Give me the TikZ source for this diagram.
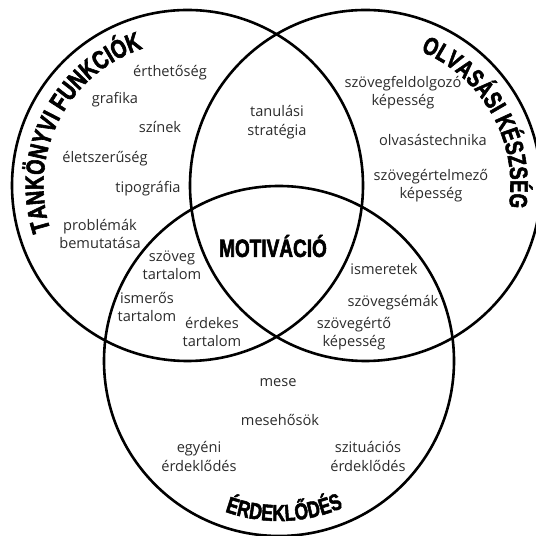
\documentclass[tikz,border=0pt]{standalone}
\usepackage{fontspec}
\setmainfont{Open Sans}
\newfontfamily\titlefont[FakeStretch=0.76, FakeBold=2.2]{Liberation Sans}
\usetikzlibrary{decorations.text}
\definecolor{itemgray}{HTML}{2b2b2b}

\begin{document}
\begin{tikzpicture}[x=1pt, y=1pt,
        ring/.style={line width=2.6pt},
        item/.style={text=itemgray, font=\fontsize{14.6}{18.5}\selectfont, align=center, inner sep=0pt},
        arctitle/.style n args={2}{decorate, decoration={text along path, text align=center,
            text={|\titlefont\bfseries\fontsize{#1}{#1}\selectfont|#2}}}]
    \useasboundingbox (0, 0) rectangle (536, 536);
    \coordinate (tk) at (187.5, 350.5);
    \coordinate (ok) at (365.5, 350.5);
    \coordinate (er) at (279, 175);
    \draw[ring] (tk) circle[radius=175.5];
    \draw[ring] (ok) circle[radius=175.5];
    \draw[ring] (er) circle[radius=175];
    \path[arctitle={26}{TANKÖNYVI FUNKCIÓK}] (tk) ++(200:144) arc[start angle=200, end angle=106, radius=144];
    \path[arctitle={25}{OLVASÁSI KÉSZSÉG}] (ok) ++(70:145) arc[start angle=70, end angle=-11, radius=145];
    \path[arctitle={23}{ÉRDEKLŐDÉS}] (er) ++(-128:160) arc[start angle=-128, end angle=-48, radius=160];
    \node[font=\titlefont\bfseries\fontsize{25}{25}\selectfont] (motiv) at (273, 290) {MOTIVÁCIÓ};
    \foreach \n/\x/\y/\t in {erthet/170/463/érthetőség, grafika/115/436/grafika,
            szinek/160/409/színek, eletsz/105/377/életszerűség, tipogr/148/347/tipográfia,
            problem/100/302/{problémák\\bemutatása}, tanul/277/414/{tanulási\\stratégia},
            szfeld/403/443.5/{szövegfeldolgozó\\képesség}, olvtech/433/396/olvasástechnika,
            szertel/431/350.5/{szövegértelmező\\képesség}, szovtart/172/270.5/{szöveg\\tartalom},
            ismtart/147/229/{ismerős\\tartalom}, erdtart/212/204/{érdekes\\tartalom},
            ismeret/384/267/ismeretek, szsemak/393/233/szövegsémák,
            szerto/354/202.5/{szövegértő\\képesség}, mese/278/153/mese, mesehos/280/116/mesehősök,
            egyeni/199/79.5/{egyéni\\érdeklődés}, szituac/368/79.5/{szituációs\\érdeklődés}}
        \node[item] (\n) at (\x, \y) {\t};
\end{tikzpicture}
\end{document}
